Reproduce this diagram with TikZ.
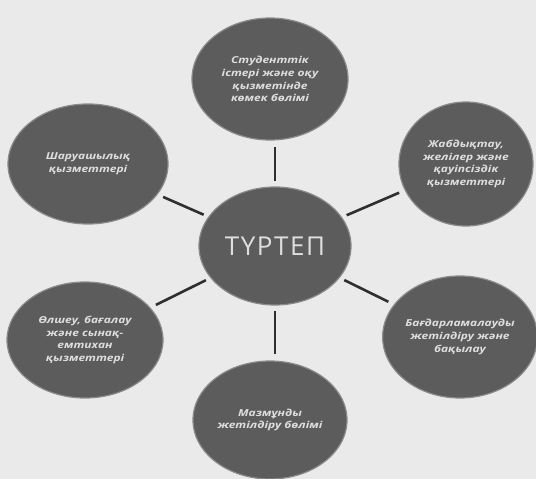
\documentclass[tikz,border=0pt]{standalone}
\usepackage{fontspec}
\setmainfont{Open Sans}
\newfontfamily\lblfont[FakeStretch=1.25]{Open Sans}
\newfontfamily\hubfont[LetterSpace=6]{Open Sans}
\usetikzlibrary{shapes.geometric}
\definecolor{bgc}{HTML}{EAEAEA}
\definecolor{ellfill}{HTML}{5C5C5C}
\definecolor{ellrim}{HTML}{8A8A8A}
\definecolor{txtc}{HTML}{DEDEDE}
\definecolor{linec}{HTML}{2F2F2F}
\tikzset{
  bubble/.style={ellipse, fill=ellfill, draw=ellrim, line width=1.2pt, inner sep=0pt,
    text=txtc, align=center, font=\lblfont\bfseries\itshape\fontsize{9.6}{12.8}\selectfont},
  hub/.style={ellipse, fill=ellfill, draw=ellrim, line width=1.2pt, inner sep=0pt,
    text=txtc, font=\hubfont\fontsize{26}{28}\selectfont},
  conn/.style={draw=linec, line width=2.6pt, shorten <=5pt, shorten >=6pt}
}
\begin{document}
\begin{tikzpicture}[x=1pt,y=-1pt]
\fill[bgc] (0,0) rectangle (536,479);
\useasboundingbox (0,0) rectangle (536,479);
\node[hub, minimum width=152pt, minimum height=118pt] (c) at (275,246) {ТҮРТЕП};
\node[bubble, minimum width=156pt, minimum height=122pt] (t) at (270,79)
  {Студенттік\\істері және оқу\\қызметінде\\көмек бөлімі};
\node[bubble, minimum width=134pt, minimum height=124pt] (ur) at (466,164)
  {Жабдықтау,\\желілер және\\қауіпсіздік\\қызметтері};
\node[bubble, minimum width=160pt, minimum height=120pt] (ul) at (88,164)
  {Шаруашылық\\қызметтері};
\node[bubble, minimum width=156pt, minimum height=116pt] (ll) at (85,340)
  {Өлшеу, бағалау\\және сынақ-\\емтихан\\қызметтері};
\node[bubble, minimum width=146pt, minimum height=122pt] (lr) at (460,337)
  {Бағдарламалауды\\жетілдіру және\\бақылау};
\node[bubble, minimum width=154pt, minimum height=118pt] (b) at (270,420)
  {Мазмұнды\\жетілдіру бөлімі};
\draw[conn] (c.north) -- (c.north |- t.south);
\draw[conn] (c) -- (ur);
\draw[conn] (c) -- (ul);
\draw[conn] (c) -- (ll);
\draw[conn] (c) -- (lr);
\draw[conn] (c.south) -- (c.south |- b.north);
\end{tikzpicture}
\end{document}
